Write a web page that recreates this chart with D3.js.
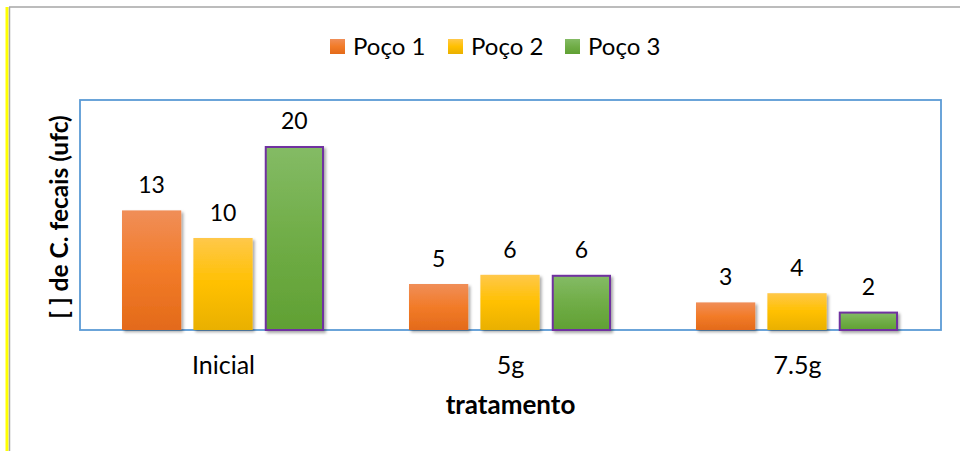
<!DOCTYPE html>
<html>
<head>
<meta charset="utf-8">
<script src="https://cdn.jsdelivr.net/npm/d3@7"></script>
<style>
  html, body { margin: 0; padding: 0; background: #fff; }
  svg { display: block; }
  text { font-family: Lato, "Open Sans", sans-serif; fill: #000; }
</style>
</head>
<body>
<svg id="chart" width="960" height="451"></svg>
<script>
// ---- data ----
const categories = ["Inicial", "5g", "7.5g"];
const seriesNames = ["Poço 1", "Poço 2", "Poço 3"];
const poco1 = [13, 5, 3];
const poco2 = [10, 6, 4];
const poco3 = [20, 6, 2];
const yDomain = [0, 25];
const xTitle = "tratamento";
const yTitle = "[ ] de C. fecais (ufc)";

const seriesValues = [poco1, poco2, poco3];
const colors = [
  { top: "#F08E58", mid: "#F27B28", bot: "#E36A1A" },
  { top: "#FFC84A", mid: "#FFC000", bot: "#E9B000" },
  { top: "#84BB65", mid: "#70AD47", bot: "#60A033" }
];
const strokes = [null, null, "#7030A0"];

const svg = d3.select("#chart");
const defs = svg.append("defs");

colors.forEach((c, i) => {
  const g = defs.append("linearGradient")
    .attr("id", "grad" + i).attr("x1", 0).attr("y1", 0).attr("x2", 0).attr("y2", 1);
  g.append("stop").attr("offset", "0%").attr("stop-color", c.top);
  g.append("stop").attr("offset", "50%").attr("stop-color", c.mid);
  g.append("stop").attr("offset", "100%").attr("stop-color", c.bot);
});

const f = defs.append("filter").attr("id", "shadow")
  .attr("x", "-20%").attr("y", "-20%").attr("width", "150%").attr("height", "150%");
f.append("feDropShadow").attr("dx", 2).attr("dy", 2).attr("stdDeviation", 1.8)
  .attr("flood-color", "#000").attr("flood-opacity", 0.35);

// outer frame decorations
svg.append("line").attr("x1", 7).attr("x2", 7).attr("y1", 7).attr("y2", 451)
  .attr("stroke", "#FFFF00").attr("stroke-width", 3);
svg.append("line").attr("x1", 9.5).attr("x2", 9.5).attr("y1", 7).attr("y2", 451)
  .attr("stroke", "#A6A6A6").attr("stroke-width", 1.5);
svg.append("line").attr("x1", 9).attr("x2", 960).attr("y1", 7).attr("y2", 7)
  .attr("stroke", "#A6A6A6").attr("stroke-width", 1.5);

// plot area
const plot = { left: 80, right: 941, top: 100, bottom: 330 };

const x0 = d3.scaleBand().domain(categories).range([plot.left, plot.right]).padding(0);
const x1 = d3.scaleBand().domain(seriesNames)
  .range([42, x0.bandwidth() - 43]).paddingInner(0.17).paddingOuter(0);
const y = d3.scaleLinear().domain(yDomain).range([plot.bottom, plot.top]);

svg.append("rect")
  .attr("x", plot.left).attr("y", plot.top)
  .attr("width", plot.right - plot.left).attr("height", plot.bottom - plot.top)
  .attr("fill", "#fff").attr("stroke", "#5B9BD5").attr("stroke-width", 1.8);

// bars
const groups = svg.append("g").selectAll("g")
  .data(categories).join("g")
  .attr("transform", d => `translate(${x0(d)},0)`);

groups.each(function(cat, ci) {
  const g = d3.select(this);
  seriesNames.forEach((s, si) => {
    const v = seriesValues[si][ci];
    const sw = strokes[si] ? 2 : 0;
    g.append("rect")
      .attr("x", x1(s) + sw / 2)
      .attr("y", y(v) + sw / 2)
      .attr("width", x1.bandwidth() - sw)
      .attr("height", y(0) - y(v) - sw / 2)
      .attr("fill", `url(#grad${si})`)
      .attr("stroke", strokes[si] || "none")
      .attr("stroke-width", sw)
      .attr("filter", "url(#shadow)");
    g.append("text")
      .attr("x", x1(s) + x1.bandwidth() / 2)
      .attr("y", y(v) - 17)
      .attr("text-anchor", "middle")
      .attr("font-size", 23)
      .text(v);
  });
});

// x axis line
const xAxis = d3.axisBottom(x0).tickSize(0).tickPadding(0);
const ax = svg.append("g").attr("transform", `translate(0,${plot.bottom})`).call(xAxis);
ax.select(".domain").attr("stroke", "#8C9BAA").attr("stroke-width", 2)
  .attr("filter", "url(#shadow)");
ax.selectAll(".tick text")
  .attr("font-family", "Lato, 'Open Sans', sans-serif")
  .attr("font-size", 25).attr("fill", "#000")
  .attr("dy", null).attr("y", 44);

// axis titles
svg.append("text")
  .attr("x", (plot.left + plot.right) / 2).attr("y", 414)
  .attr("text-anchor", "middle").attr("font-size", 26).attr("font-weight", "bold")
  .text(xTitle);

svg.append("text")
  .attr("transform", `translate(68,${(plot.top + plot.bottom) / 2 + 2}) rotate(-90)`)
  .attr("text-anchor", "middle").attr("font-size", 24.5).attr("font-weight", "bold")
  .text(yTitle);

// legend
const legendX = [330, 448, 565];
const legend = svg.append("g");
seriesNames.forEach((s, i) => {
  legend.append("rect").attr("x", legendX[i]).attr("y", 39)
    .attr("width", 15).attr("height", 15).attr("fill", `url(#grad${i})`);
  legend.append("text").attr("x", legendX[i] + 23).attr("y", 55)
    .attr("font-size", 24).text(s);
});
</script>
</body>
</html>
